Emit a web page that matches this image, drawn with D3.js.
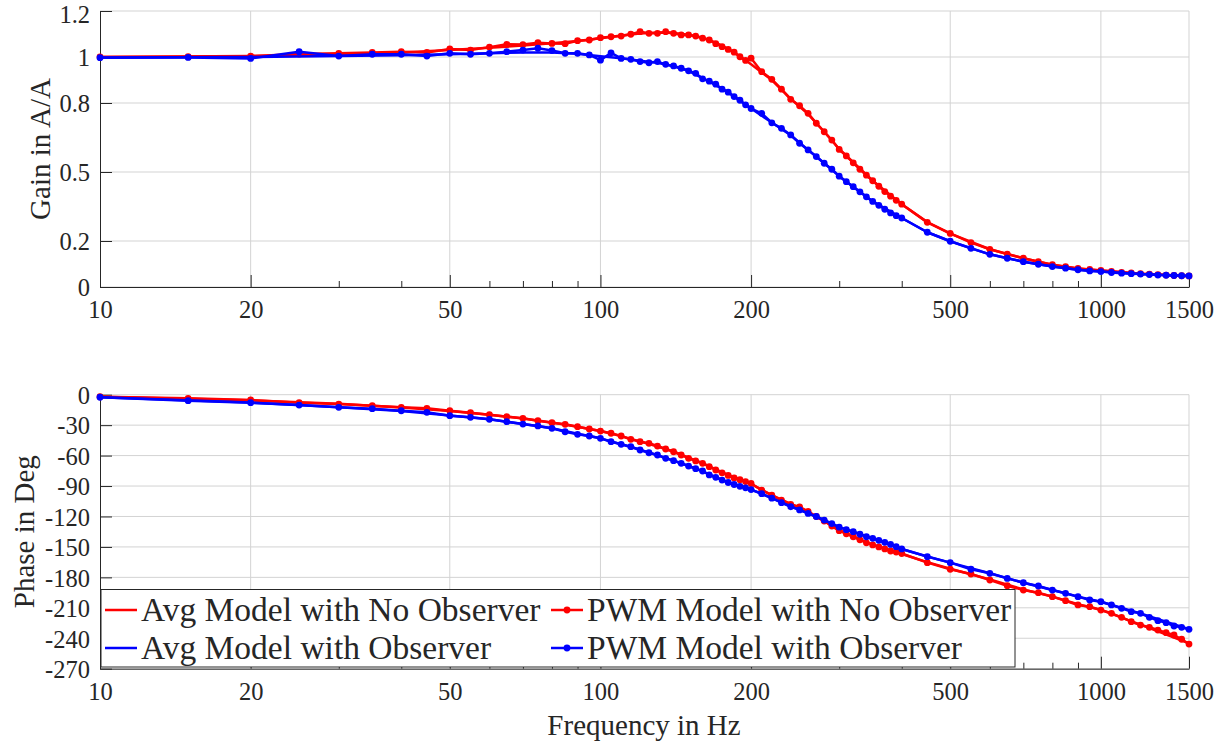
<!DOCTYPE html>
<html>
<head>
<meta charset="utf-8">
<script src="https://cdn.jsdelivr.net/npm/d3@7"></script>
<style>
  body { margin: 0; background: #fff; }
  svg { display: block; }
  .axis text { font-family: "Liberation Serif", "Times New Roman", serif; font-size: 24.5px; fill: #262626; }
  .axis path, .axis line { stroke: #262626; }
  .lbl { font-family: "Liberation Serif", "Times New Roman", serif; fill: #262626; }
</style>
</head>
<body>
<svg id="chart"></svg>
<script>
// frequency points (Hz)
const freqPwm = [10,15,20,25,30,35,40,45,50,55,60,65,70,75,80,85,90,95,100,105,110,115,120,125,130,135,140,145,150,155,160,165,170,175,180,185,190,195,200,
  210,220,230,240,250,260,270,280,290,300,310,320,330,340,350,360,370,380,390,400,
  450,
  500,550,600,650,700,750,800,850,900,950,1000,1050,1100,1150,1200,1250,1300,1350,1400,1450,1500];
const freqAvg = [10,20,30,40,50,60,70,80,90,100,110,120,130,140,150,160,170,180,190,200,220,240,260,280,300,350,400,450,500,600,700,800,900,1000,1200,1500];

// gain (A/A)
const gainAvgNoObs = [1.000,1.004,1.012,1.020,1.030,1.040,1.050,1.060,1.070,1.082,1.093,1.102,1.106,1.104,1.097,1.084,1.062,1.035,1.003,0.968,
  0.900,0.818,0.752,0.675,0.600,0.462,0.360,0.282,0.232,0.164,0.125,0.097,0.081,0.072,0.058,0.048];
const gainAvgObs = [0.998,1.000,1.004,1.008,1.012,1.016,1.020,1.020,1.014,1.003,0.995,0.984,0.975,0.960,0.940,0.908,0.878,0.846,0.810,0.776,
  0.715,0.660,0.596,0.538,0.482,0.372,0.300,0.238,0.199,0.142,0.110,0.089,0.075,0.067,0.056,0.048];
const gainPwmNoObs = [1.000,1.001,1.004,1.013,1.016,1.020,1.023,1.020,1.035,1.030,
  1.043,1.055,1.054,1.062,1.059,1.058,1.071,1.074,1.084,1.088,
  1.091,1.099,1.110,1.103,1.103,1.110,1.103,1.096,1.096,1.091,
  1.082,1.074,1.058,1.045,1.033,1.021,1.001,0.985,0.995,
  0.936,0.903,0.860,0.816,0.788,0.755,0.712,0.675,0.639,0.598,
  0.570,0.540,0.512,0.486,0.462,0.438,0.415,0.395,0.377,0.360,
  0.281,
  0.233,0.193,0.164,0.143,0.125,0.110,0.097,0.088,0.081,0.076,0.072,
  0.068,0.064,0.061,0.058,0.056,0.054,0.052,0.050,0.049,0.048];
const gainPwmObs = [0.997,0.998,0.994,1.023,1.004,1.012,1.012,1.004,1.016,1.012,
  1.016,1.023,1.030,1.038,1.028,1.016,1.016,1.009,0.986,1.018,
  0.994,0.990,0.980,0.975,0.980,0.968,0.961,0.951,0.940,0.929,
  0.905,0.895,0.882,0.860,0.847,0.828,0.812,0.792,0.776,
  0.755,0.714,0.690,0.661,0.625,0.596,0.567,0.538,0.512,0.482,
  0.458,0.436,0.414,0.392,0.372,0.355,0.338,0.322,0.310,0.300,
  0.238,
  0.199,0.168,0.142,0.125,0.110,0.099,0.089,0.082,0.075,0.070,0.067,
  0.063,0.060,0.058,0.056,0.054,0.052,0.051,0.050,0.049,0.048];

// phase (deg)
const phaseAvgNoObs = [-2,-5.5,-9,-12.5,-16,-19.7,-23.5,-27.5,-31.5,-35.8,-40.8,-46,-51,-56,-62,-67.5,-73.5,-79,-83.5,-88,
  -99,-107.5,-116,-124.5,-133.5,-148,-157,-165,-171.5,-182,-192,-199,-206.5,-212,-226.5,-245];
const phaseAvgObs = [-2.5,-7.8,-12.3,-16,-20.5,-24.3,-28.8,-33,-38.5,-43,-48.8,-54.3,-59.6,-65,-70.3,-75.5,-81.2,-86.5,-90.3,-93.5,
  -102,-110,-117,-123.5,-130.5,-141.5,-152,-159.5,-165.5,-176,-185.3,-192.5,-199,-204,-215.5,-231];
const phasePwmNoObs = [-2.0,-3.6,-5.2,-7.9,-9.2,-10.8,-12.4,-13.4,-15.8,-17.7,
  -19.7,-21.7,-23.3,-25.6,-27.6,-29.2,-31.5,-33.8,-35.8,-38.0,
  -40.7,-44.0,-46.3,-47.9,-50.6,-53.5,-56.2,-59.4,-62.7,-65.3,
  -67.6,-70.9,-74.2,-77.0,-79.5,-82.0,-83.8,-85.6,-87.5,
  -94.0,-99.0,-104.0,-108.0,-110.5,-115.0,-120.0,-124.5,-129.5,-134.0,
  -137.0,-140.0,-143.0,-146.0,-148.0,-150.0,-152.0,-154.0,-155.0,-156.5,
  -165.5,
  -172.0,-176.7,-182.6,-188.2,-192.5,-195.1,-199.0,-203.0,-207.2,-208.9,-212.2,
  -215.4,-219.4,-223.7,-227.0,-229.2,-231.9,-234.5,-236.8,-241.0,-245.7];
const phasePwmObs = [-2.5,-5.9,-7.9,-10.2,-12.4,-13.8,-15.8,-17.4,-20.7,-22.3,
  -24.3,-26.6,-28.9,-30.8,-33.1,-36.5,-39.0,-40.7,-43.0,-46.3,
  -48.9,-51.2,-54.5,-57.2,-59.4,-62.7,-65.0,-67.6,-70.3,-72.9,
  -75.2,-79.1,-81.4,-84.1,-86.5,-88.5,-90.3,-91.8,-93.5,
  -97.5,-102.0,-106.4,-110.4,-113.5,-117.0,-120.0,-123.5,-127.0,-130.5,
  -133.0,-135.0,-137.5,-140.0,-141.5,-143.5,-145.5,-147.5,-149.8,-152.0,
  -159.6,
  -165.5,-172.0,-176.0,-181.0,-185.3,-188.5,-192.5,-195.7,-199.0,-202.3,-204.0,
  -207.2,-210.5,-213.8,-215.4,-219.4,-222.7,-224.6,-227.9,-229.2,-231.2];

// ticks
const xMajorTicks = [10,20,50,100,200,500,1000,1500];
const xMinorTicks = [30,40,60,70,80,90,300,400,600,700,800,900];
const gainTicks = [0,0.2,0.5,0.8,1,1.2];
const phaseTicks = [0,-30,-60,-90,-120,-150,-180,-210,-240,-270];

const legendNames = ["Avg Model with No Observer","PWM Model with No Observer","Avg Model with Observer","PWM Model with Observer"];

const W = 1231, H = 746;
const svg = d3.select("#chart").attr("width", W).attr("height", H);

const left = 100, right = 1189;
const xScale = d3.scaleLog().domain([10, 1500]).range([left, right]);

function drawPanel(top, bottom, yDomain, yTicks, series, yLabel, labelX) {
  let yScale = d3.scaleLinear().domain(yDomain).range([bottom, top]);
  let g = svg.append("g");

  // grid
  g.selectAll(".hgrid").data(yTicks).enter().append("line")
    .attr("x1", left).attr("x2", right)
    .attr("y1", d => yScale(d)).attr("y2", d => yScale(d))
    .attr("stroke", "#d3d3d3").attr("stroke-width", 1);
  g.selectAll(".vgrid").data(xMajorTicks.slice(1)).enter().append("line")
    .attr("x1", d => xScale(d)).attr("x2", d => xScale(d))
    .attr("y1", top).attr("y2", bottom)
    .attr("stroke", "#d3d3d3").attr("stroke-width", 1);

  // axes
  g.append("g").attr("class", "axis")
    .attr("transform", `translate(0,${bottom})`)
    .call(d3.axisBottom(xScale).tickValues(xMinorTicks).tickSize(-6).tickSizeOuter(0).tickFormat(""))
    .call(a => a.select(".domain").remove());
  g.append("g").attr("class", "axis")
    .attr("transform", `translate(0,${bottom})`)
    .call(d3.axisBottom(xScale).tickValues(xMajorTicks).tickSize(-12).tickSizeOuter(0).tickPadding(14).tickFormat(d3.format("d")));
  // top label of the gain panel sits a bit lower so it stays inside the page
  g.append("g").attr("class", "axis")
    .attr("transform", `translate(${left},0)`)
    .call(d3.axisLeft(yScale).tickValues(yTicks).tickSize(-12).tickSizeOuter(0).tickPadding(10).tickFormat(d => String(d)))
    .call(a => a.selectAll("text").attr("dy", d => yScale(d) < 20 ? "0.46em" : "0.36em"));

  // lines
  let line = d3.line().x(d => xScale(d[0])).y(d => yScale(d[1]));
  series.forEach(s => {
    let pts = s.f.map((f, i) => [f, s.v[i]]);
    g.append("path").datum(pts)
      .attr("d", line)
      .attr("fill", "none")
      .attr("stroke", s.color)
      .attr("stroke-width", 2.5)
      .attr("stroke-linejoin", "round");
    if (s.marker) {
      g.selectAll(null).data(pts).enter().append("circle")
        .attr("cx", d => xScale(d[0])).attr("cy", d => yScale(d[1]))
        .attr("r", 3.4).attr("fill", s.color);
    }
  });

  svg.append("text").attr("class", "lbl")
    .attr("transform", `translate(${labelX},${(top + bottom) / 2}) rotate(-90)`)
    .attr("text-anchor", "middle")
    .attr("font-size", "29px")
    .text(yLabel);
  return g;
}

drawPanel(11, 287, [0, 1.2], gainTicks, [
  { f: freqAvg, v: gainAvgNoObs, color: "#ff0000", marker: false },
  { f: freqPwm, v: gainPwmNoObs, color: "#ff0000", marker: true },
  { f: freqAvg, v: gainAvgObs, color: "#0000ff", marker: false },
  { f: freqPwm, v: gainPwmObs, color: "#0000ff", marker: true }
], "Gain in A/A", 50);

drawPanel(394.7, 668.7, [-270, 0], phaseTicks, [
  { f: freqAvg, v: phaseAvgNoObs, color: "#ff0000", marker: false },
  { f: freqPwm, v: phasePwmNoObs, color: "#ff0000", marker: true },
  { f: freqAvg, v: phaseAvgObs, color: "#0000ff", marker: false },
  { f: freqPwm, v: phasePwmObs, color: "#0000ff", marker: true }
], "Phase in Deg", 34);

svg.append("text").attr("class", "lbl")
  .attr("x", 644).attr("y", 735)
  .attr("text-anchor", "middle")
  .attr("font-size", "29px")
  .text("Frequency in Hz");

// legend
let legend = svg.append("g");
legend.append("rect")
  .attr("x", 101).attr("y", 589.5).attr("width", 914).attr("height", 77.5)
  .attr("fill", "#fff").attr("stroke", "#262626").attr("stroke-width", 1);
let legendItems = [
  { x: 105, y: 610, color: "#ff0000", marker: false },
  { x: 551, y: 610, color: "#ff0000", marker: true },
  { x: 105, y: 648, color: "#0000ff", marker: false },
  { x: 551, y: 648, color: "#0000ff", marker: true }
];
legendItems.forEach((d, i) => {
  legend.append("line")
    .attr("x1", d.x).attr("x2", d.x + 32).attr("y1", d.y).attr("y2", d.y)
    .attr("stroke", d.color).attr("stroke-width", 2.5);
  if (d.marker) {
    legend.append("circle").attr("cx", d.x + 16).attr("cy", d.y).attr("r", 3.4).attr("fill", d.color);
  }
  legend.append("text").attr("class", "lbl")
    .attr("x", d.x + 36).attr("y", d.y + 11)
    .attr("font-size", "33.5px")
    .attr("fill", "#000")
    .text(legendNames[i]);
});
</script>
</body>
</html>
